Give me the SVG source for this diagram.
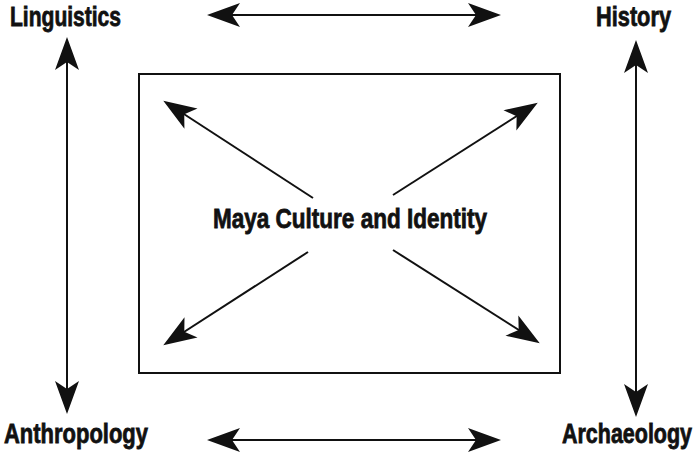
<svg xmlns="http://www.w3.org/2000/svg" width="700" height="461" viewBox="0 0 700 461">
<style>
.lbl{font-family:"Liberation Sans Narrow","Liberation Sans",Arial,sans-serif;font-weight:bold;font-size:28px;fill:#111;stroke:#111;stroke-width:0.8}
.ln{stroke:#111;stroke-width:2;fill:none}
</style>
<defs>
<marker id="ah" viewBox="-34 -13 36 26" refX="-8" refY="0" markerWidth="36" markerHeight="26" markerUnits="userSpaceOnUse" orient="auto-start-reverse">
<path d="M0,0 L-33,-12 L-25,0 L-33,12 Z" fill="#111"/>
</marker>
</defs>
<rect width="700" height="461" fill="#fff"/>
<g id="box"><rect x="139" y="74" width="421" height="299" fill="none" stroke="#111" stroke-width="2"/></g>
<g id="linguistics"><text class="lbl" x="10" y="26" textLength="111" lengthAdjust="spacingAndGlyphs">Linguistics</text></g>
<g id="history"><text class="lbl" x="596" y="26" textLength="75" lengthAdjust="spacingAndGlyphs">History</text></g>
<g id="anthropology"><text class="lbl" x="4" y="443" textLength="144" lengthAdjust="spacingAndGlyphs">Anthropology</text></g>
<g id="archaeology"><text class="lbl" x="562" y="443" textLength="130" lengthAdjust="spacingAndGlyphs" style="font-size:27px">Archaeology</text></g>
<g id="center"><text class="lbl" x="213" y="228" textLength="274" lengthAdjust="spacingAndGlyphs">Maya Culture and Identity</text></g>
<g id="connectors">
<line class="ln" x1="215" y1="15" x2="493" y2="15" marker-start="url(#ah)" marker-end="url(#ah)"/>
<line class="ln" x1="215" y1="440" x2="493" y2="440" marker-start="url(#ah)" marker-end="url(#ah)"/>
<line class="ln" x1="67" y1="45" x2="67" y2="406" marker-start="url(#ah)" marker-end="url(#ah)"/>
<line class="ln" x1="636" y1="48" x2="636" y2="409" marker-start="url(#ah)" marker-end="url(#ah)"/>
<line class="ln" x1="313" y1="198" x2="170" y2="105" marker-end="url(#ah)"/>
<line class="ln" x1="393" y1="195" x2="531" y2="107" marker-end="url(#ah)"/>
<line class="ln" x1="308" y1="252" x2="170" y2="341" marker-end="url(#ah)"/>
<line class="ln" x1="393" y1="250" x2="533" y2="339" marker-end="url(#ah)"/>
</g>
</svg>
